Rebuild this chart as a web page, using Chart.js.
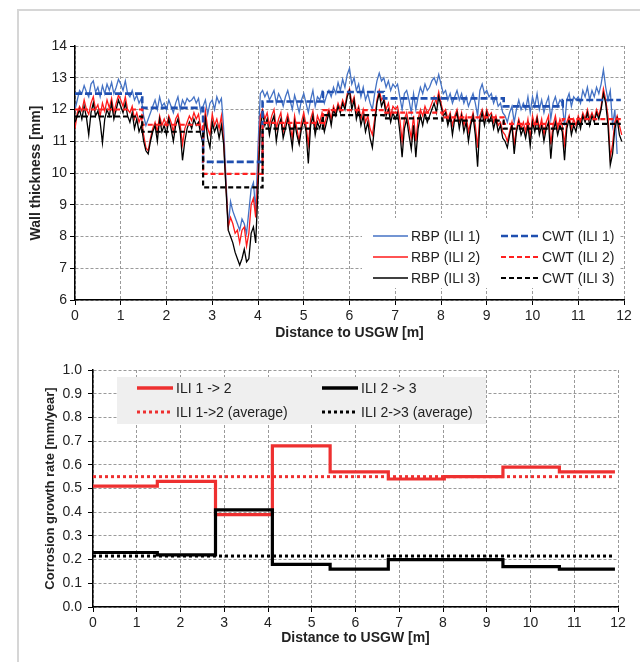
<!DOCTYPE html>
<html><head><meta charset="utf-8">
<script src="https://cdn.jsdelivr.net/npm/chart.js@4"></script>
<style>
html,body{margin:0;padding:0;background:#fff;}
#wrap{position:relative;width:640px;height:662px;overflow:hidden;background:#fff;}
#frame{position:absolute;left:17px;top:9px;width:700px;height:700px;border-left:2px solid #d6d6d6;border-top:2px solid #d6d6d6;}
#c1{position:absolute;left:0;top:0;}
#c2{position:absolute;left:0;top:345px;}
</style></head><body>
<div id="wrap"><div id="frame"></div>
<canvas id="c1" width="640" height="345"></canvas>
<canvas id="c2" width="640" height="317"></canvas>
</div>
<script>
// ---------- DATA: top chart (wall thickness) ----------
const rbpStart = 0, rbpStep = 0.05; // sampling of the RBP profiles [m]
const rbp1 = [
12.0,12.3,12.6,12.5,12.75,12.55,12.4,12.8,12.9,12.55,12.7,12.4,12.75,12.5,12.8,12.6,12.85,12.5,12.7,12.95,
12.8,12.6,12.9,12.5,12.4,12.6,12.3,12.45,12.2,12.35,11.8,11.5,11.7,11.9,12.1,12.3,12.0,12.4,12.1,12.2,
12.0,12.3,12.1,11.9,12.2,12.4,12.0,12.3,12.15,12.35,12.25,12.3,12.4,12.2,12.35,11.9,12.1,12.3,11.85,12.2,
12.3,12.0,12.4,12.2,12.35,11.4,9.8,8.3,9.1,8.8,8.6,8.4,8.2,8.55,8.4,8.1,8.8,9.5,9.7,8.8,
10.8,12.5,12.6,12.4,12.55,12.3,12.45,12.6,12.2,12.5,12.35,12.1,12.4,12.6,12.3,12.0,12.45,12.2,11.9,12.3,
12.5,12.2,11.9,12.3,12.6,12.1,12.4,12.3,12.55,12.2,12.45,12.6,12.4,12.7,12.5,12.85,12.6,12.95,12.7,13.1,
13.3,12.8,13.0,12.6,12.8,12.4,12.7,12.3,12.5,12.2,12.0,12.5,12.9,13.15,12.9,13.0,12.7,12.9,12.6,12.8,
12.7,12.8,12.4,12.0,12.5,12.6,12.3,11.9,12.5,12.0,12.4,12.7,12.5,12.8,12.6,12.7,12.9,13.0,12.8,13.1,
12.8,12.5,12.6,12.3,12.5,12.2,12.4,12.6,12.3,12.5,12.2,12.4,12.1,12.3,12.5,12.2,11.8,12.6,12.8,12.5,
12.6,12.4,12.5,12.2,12.4,12.1,12.2,11.9,11.8,11.6,11.9,12.1,11.6,12.0,12.3,12.0,12.2,12.0,12.4,11.9,
12.4,12.1,12.5,12.0,12.3,11.9,12.2,12.4,11.7,12.2,12.4,12.1,12.3,12.2,11.5,12.3,12.5,12.1,12.4,12.3,
12.4,12.2,12.6,12.4,12.7,12.3,12.6,12.4,12.7,12.5,12.8,13.25,12.7,12.3,12.6,11.5,12.0,10.6];
const rbp2 = [
11.4,11.9,12.1,11.95,12.3,12.0,11.85,12.2,12.4,12.0,12.15,11.8,12.2,11.95,12.3,12.05,12.35,11.9,12.2,12.45,
12.3,12.1,12.4,12.0,11.9,12.1,11.7,11.9,11.6,11.8,11.2,10.8,10.7,11.1,11.4,11.6,11.3,11.8,11.5,11.7,
11.5,11.8,11.6,11.3,11.7,11.85,11.5,10.9,11.4,11.6,11.8,11.65,11.9,11.7,11.85,11.4,11.3,11.95,11.4,11.2,
11.85,11.5,11.7,11.4,11.8,11.0,9.6,8.3,8.6,8.4,8.1,8.2,7.8,8.2,8.3,7.7,8.1,9.0,9.2,8.6,
10.0,11.8,12.0,11.7,11.9,11.5,11.8,12.0,11.4,11.7,11.9,11.3,11.6,11.85,11.5,11.1,11.8,11.4,11.0,11.6,
11.9,11.5,10.9,11.7,11.95,11.4,11.8,11.6,11.9,11.5,11.8,12.0,11.7,12.1,11.9,12.2,12.0,12.3,12.1,12.5,
12.65,12.2,12.4,11.9,12.1,11.7,12.0,11.6,11.8,11.4,11.2,11.7,12.3,12.6,12.3,12.4,12.0,12.2,11.8,12.1,
12.0,12.1,11.7,11.0,11.7,11.9,11.5,11.1,11.8,11.0,11.7,12.0,11.8,12.1,11.9,12.0,12.2,12.4,12.2,12.55,
12.2,11.9,12.0,11.7,11.9,11.5,11.8,12.0,11.6,11.9,11.5,11.8,11.3,11.6,11.9,11.5,10.8,11.8,12.0,11.7,
12.0,11.8,11.9,11.6,11.8,11.5,11.6,11.3,11.2,11.0,11.3,11.6,10.9,11.4,11.7,11.4,11.6,11.3,11.7,11.1,
11.8,11.5,11.8,11.4,11.7,11.2,11.6,11.8,10.9,11.5,11.8,11.4,11.7,11.5,10.9,11.6,11.8,11.4,11.7,11.5,
11.8,11.6,11.9,11.7,12.0,11.7,11.9,11.7,12.0,11.8,12.1,12.65,12.3,11.8,10.5,10.9,11.6,11.8,11.5,11.2];
const rbp3 = [
11.6,11.8,12.0,11.7,12.1,11.75,11.2,11.9,12.2,11.8,11.95,11.6,10.95,11.7,12.0,11.8,12.2,11.7,12.0,12.3,
12.1,11.9,12.2,11.8,11.6,11.9,11.4,11.7,11.3,11.5,11.0,10.7,10.6,11.0,11.3,11.5,11.0,11.7,11.3,11.5,
11.2,11.7,11.4,11.0,11.5,11.7,11.3,10.4,11.0,11.4,11.6,11.4,11.7,11.5,11.6,11.2,10.9,11.7,11.1,10.8,
11.6,11.3,11.5,11.1,11.5,10.9,9.5,8.2,8.0,7.8,7.5,7.3,7.1,7.3,7.6,7.2,7.3,8.1,8.3,7.8,
9.5,11.4,11.9,11.5,11.7,11.2,11.6,11.8,11.0,11.5,11.7,11.1,11.4,11.7,11.3,10.8,11.6,11.2,10.9,11.4,
11.7,11.3,10.3,11.5,11.8,11.2,11.6,11.4,11.7,11.3,11.6,11.9,11.5,12.0,11.8,12.1,11.9,12.2,12.0,12.4,
12.6,12.0,12.3,11.7,12.0,11.5,11.8,11.3,11.6,11.1,10.8,11.5,12.2,12.5,12.1,12.3,11.8,12.0,11.6,11.9,
11.7,11.9,11.3,10.5,11.4,11.7,11.2,10.75,11.5,10.5,11.4,11.8,11.5,11.9,11.6,11.8,12.0,12.2,11.9,12.4,
12.1,11.8,11.9,11.5,11.8,11.2,11.7,11.9,11.4,11.8,11.3,11.6,11.0,11.5,11.8,11.2,10.2,11.6,11.9,11.5,
11.9,11.6,11.8,11.4,11.7,11.3,11.5,11.1,11.0,10.8,11.2,11.5,10.6,11.3,11.6,11.2,11.4,11.1,11.5,10.85,
11.6,11.3,11.7,11.2,11.5,11.0,11.4,11.6,10.45,11.3,11.6,11.2,11.5,11.3,10.4,11.4,11.7,11.2,11.5,11.3,
11.7,11.4,11.8,11.6,11.9,11.5,11.8,11.6,11.9,11.7,12.0,12.5,12.2,11.5,10.25,10.6,11.4,11.7,11.2,11.0];
// segment boundaries [m] shared by CWT and growth-rate steps
const segBounds = [0, 1.47, 2.8, 4.1, 5.42, 6.75, 8.03, 9.37, 10.66, 11.93];
const cwt1 = [12.5, 12.05, 10.35, 12.25, 12.55, 12.35, 12.35, 12.1, 12.3];
const cwt2 = [12.0, 11.52, 9.97, 11.58, 11.98, 11.9, 11.75, 11.55, 11.7];
const cwt3 = [11.78, 11.3, 9.55, 11.4, 11.82, 11.72, 11.65, 11.4, 11.55];
const xTicksTop = {min: 0, max: 12, step: 1};
const yTicksTop = {min: 6, max: 14, step: 1};

// ---------- DATA: bottom chart (corrosion growth rate) ----------
const gr12 = [0.51, 0.53, 0.39, 0.68, 0.57, 0.54, 0.55, 0.59, 0.57];
const gr23 = [0.23, 0.22, 0.41, 0.18, 0.16, 0.20, 0.20, 0.17, 0.16];
const avg12 = 0.55;
const avg23 = 0.215;
const avgSpan = [0, 11.9];
const xTicksBot = {min: 0, max: 12, step: 1};
const yTicksBot = {min: 0, max: 1, step: 0.1};

// ---------- helpers ----------
const FONT = "'Liberation Sans', Arial, Helvetica, sans-serif";
Chart.defaults.font.family = FONT;
Chart.defaults.color = '#222';

function profile(vals) {
  return vals.map((v, i) => ({x: +(rbpStart + i * rbpStep).toFixed(2), y: v}));
}
function steps(bounds, vals) {
  const pts = vals.map((v, i) => ({x: bounds[i], y: v}));
  pts.push({x: bounds[vals.length], y: vals[vals.length - 1]});
  return pts;
}
function hline(span, v) { return [{x: span[0], y: v}, {x: span[1], y: v}]; }

function axis(t, opts) {
  return Object.assign({
    type: 'linear', min: t.min, max: t.max,
    ticks: {stepSize: t.step, autoSkip: false, maxRotation: 0, font: {size: 14}, color: '#222'},
    grid: {color: '#9a9a9a', lineWidth: 1, tickLength: 5, tickColor: '#000', tickWidth: 1},
    border: {display: true, color: '#000', width: 1.5, dash: [3, 2]}
  }, opts);
}

// custom legend drawn inside the plot area
function legendPlugin(id, box, items) {
  return {
    id,
    afterDatasetsDraw(chart) {
      const ctx = chart.ctx;
      ctx.save();
      ctx.fillStyle = box.fill;
      ctx.fillRect(box.x, box.y, box.w, box.h);
      items.forEach(it => {
        const ds = chart.data.datasets[it.ds];
        ctx.beginPath();
        ctx.setLineDash(it.dash || []);
        ctx.lineWidth = it.w;
        ctx.strokeStyle = ds.borderColor;
        ctx.moveTo(it.x1, it.y);
        ctx.lineTo(it.x2, it.y);
        ctx.stroke();
        ctx.setLineDash([]);
        ctx.fillStyle = '#222';
        ctx.font = (box.size || 14) + 'px ' + FONT;
        ctx.textBaseline = 'middle';
        ctx.textAlign = 'left';
        ctx.fillText(ds.label, it.x2 + 3, it.y + 1);
      });
      ctx.restore();
    }
  };
}

// ---------- top chart ----------
const topData = {
  datasets: [
    {label: 'RBP (ILI 1)', data: profile(rbp1), borderColor: '#4472c4', borderWidth: 1.3, order: 6},
    {label: 'RBP (ILI 2)', data: profile(rbp2), borderColor: '#ff1a1a', borderWidth: 1.3, order: 5},
    {label: 'RBP (ILI 3)', data: profile(rbp3), borderColor: '#000000', borderWidth: 1.3, order: 4},
    {label: 'CWT (ILI 1)', data: steps(segBounds, cwt1), borderColor: '#1f4fb0', borderWidth: 2.6, borderDash: [7, 3], stepped: true, order: 3},
    {label: 'CWT (ILI 2)', data: steps(segBounds, cwt2), borderColor: '#ff2020', borderWidth: 2.2, borderDash: [5, 3], stepped: true, order: 2},
    {label: 'CWT (ILI 3)', data: steps(segBounds, cwt3), borderColor: '#000000', borderWidth: 2.2, borderDash: [5, 3], stepped: true, order: 1}
  ]
};
new Chart(document.getElementById('c1'), {
  type: 'line',
  data: topData,
  options: {
    responsive: false, animation: false, devicePixelRatio: 1, events: [],
    elements: {point: {radius: 0}, line: {tension: 0, fill: false}},
    layout: {padding: {left: 27.6, right: 16, top: 46, bottom: 3.6}},
    plugins: {legend: {display: false}, tooltip: {enabled: false}},
    scales: {
      x: axis(xTicksTop, {
        title: {display: true, text: 'Distance to USGW [m]', font: {size: 14, weight: 'bold'}, color: '#222', padding: {top: 0, bottom: 0}},
        afterFit(s) { s.height = 41.4; }
      }),
      y: axis(yTicksTop, {
        title: {display: true, text: 'Wall thickness [mm]', font: {size: 14, weight: 'bold'}, color: '#222', padding: {top: 0, bottom: 0}},
        afterFit(s) { s.width = 47.4; }
      })
    }
  },
  plugins: [legendPlugin('legTop', {x: 362, y: 218, w: 258, h: 70, fill: '#ffffff', size: 14}, [
    {ds: 0, x1: 373, x2: 408, y: 236, w: 1.3},
    {ds: 1, x1: 373, x2: 408, y: 257, w: 1.3},
    {ds: 2, x1: 373, x2: 408, y: 278, w: 1.3},
    {ds: 3, x1: 501, x2: 539, y: 236, w: 2.6, dash: [7, 3]},
    {ds: 4, x1: 501, x2: 539, y: 257, w: 2.2, dash: [5, 3]},
    {ds: 5, x1: 501, x2: 539, y: 278, w: 2.2, dash: [5, 3]}
  ])]
});

// ---------- bottom chart ----------
const botData = {
  datasets: [
    {label: 'ILI 1 -> 2', data: steps(segBounds, gr12), borderColor: '#ee3030', borderWidth: 3.2, stepped: true, order: 2},
    {label: 'ILI 2 -> 3', data: steps(segBounds, gr23), borderColor: '#000000', borderWidth: 3.2, stepped: true, order: 1},
    {label: 'ILI 1->2 (average)', data: hline(avgSpan, avg12), borderColor: '#ee3030', borderWidth: 3, borderDash: [3, 3], order: 4},
    {label: 'ILI 2->3 (average)', data: hline(avgSpan, avg23), borderColor: '#000000', borderWidth: 3, borderDash: [3, 3], order: 3}
  ]
};
new Chart(document.getElementById('c2'), {
  type: 'line',
  data: botData,
  options: {
    responsive: false, animation: false, devicePixelRatio: 1, events: [],
    elements: {point: {radius: 0}, line: {tension: 0, fill: false}},
    layout: {padding: {left: 42.2, right: 22, top: 25, bottom: 15.6}},
    plugins: {legend: {display: false}, tooltip: {enabled: false}},
    scales: {
      x: axis(xTicksBot, {
        ticks: {stepSize: 1, autoSkip: false, maxRotation: 0, font: {size: 14}, color: '#222', padding: 3},
        title: {display: true, text: 'Distance to USGW [m]', font: {size: 14, weight: 'bold'}, color: '#222', padding: {top: 0, bottom: 0}},
        afterFit(s) { s.height = 39.4; }
      }),
      y: axis(yTicksBot, {
        ticks: {stepSize: 0.1, autoSkip: false, font: {size: 14}, color: '#222', padding: 6, callback: v => Number(v).toFixed(1)},
        title: {display: true, text: 'Corrosion growth rate [mm/year]', font: {size: 13, weight: 'bold'}, color: '#222', padding: {top: 0, bottom: 0}},
        afterFit(s) { s.width = 50.8; }
      })
    }
  },
  plugins: [legendPlugin('legBot', {x: 117, y: 32, w: 369, h: 47, fill: '#efefef', size: 14}, [
    {ds: 0, x1: 137, x2: 173, y: 43, w: 3.5},
    {ds: 1, x1: 322, x2: 358, y: 43, w: 3.5},
    {ds: 2, x1: 137, x2: 173, y: 67, w: 3, dash: [3, 3]},
    {ds: 3, x1: 322, x2: 358, y: 67, w: 3, dash: [3, 3]}
  ])]
});
</script>
</body></html>
